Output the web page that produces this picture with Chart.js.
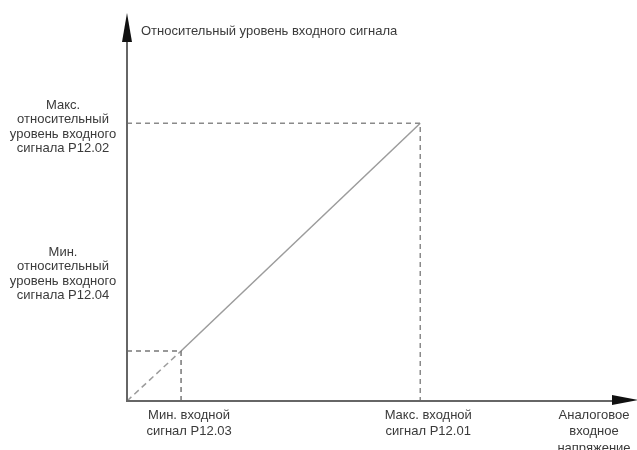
<!DOCTYPE html>
<html>
<head>
<meta charset="utf-8">
<script src="https://cdn.jsdelivr.net/npm/chart.js@4.4.1/dist/chart.umd.min.js"></script>
<style>
  html, body { margin: 0; padding: 0; background: #fff; }
  #wrap { width: 637px; height: 450px; }
</style>
</head>
<body>
<div id="wrap"><canvas id="grafico"></canvas></div>
<script>
// ----------------------- dados --------------------------------------------//
var pontoMin = { x: 1.06, y: 1.32 };   // P12.03 / P12.04
var pontoMax = { x: 5.75, y: 7.33 };   // P12.01 / P12.02
var tituloY = 'Относительный уровень входного сигнала';
var rotulosX = [
  ['Мин. входной', 'сигнал P12.03'],
  ['Макс. входной', 'сигнал P12.01'],
  ['Аналоговое', 'входное', 'напряжение']
];
var posRotulosX = [pontoMin.x, pontoMax.x, 9.0];
var rotulosY = [
  ['Макс.', 'относительный', 'уровень входного', 'сигнала P12.02'],
  ['Мин.', 'относительный', 'уровень входного', 'сигнала P12.04']
];

// ----------------------- eixos e textos ------------------------------------//
var eixos = {
  id: 'eixos',
  afterDraw: function (chart) {
    var c = chart.ctx;
    var x = chart.scales.x, y = chart.scales.y;
    var x0 = x.getPixelForValue(0), y0 = y.getPixelForValue(0);
    var xEnd = x.getPixelForValue(10), yEnd = y.getPixelForValue(10);
    c.save();
    c.strokeStyle = '#666';
    c.fillStyle = '#111';
    c.lineWidth = 2;
    c.beginPath();
    c.moveTo(x0, y0 + 1);
    c.lineTo(x0, yEnd + 18);
    c.moveTo(x0 - 1, y0);
    c.lineTo(xEnd - 22, y0);
    c.stroke();
    // setas
    c.beginPath();
    c.moveTo(x0, yEnd - 9);
    c.lineTo(x0 - 5, yEnd + 20);
    c.lineTo(x0 + 5, yEnd + 20);
    c.closePath();
    c.fill();
    c.beginPath();
    c.moveTo(xEnd + 2, y0 - 1);
    c.lineTo(xEnd - 25, y0 - 6);
    c.lineTo(xEnd - 25, y0 + 4);
    c.closePath();
    c.fill();

    c.fillStyle = '#3a3a3a';
    c.font = '13px "Liberation Sans", Arial, sans-serif';
    c.textBaseline = 'middle';
    c.textAlign = 'left';
    c.fillText(tituloY, x0 + 14, 31);

    c.textAlign = 'center';
    rotulosX.forEach(function (linhas, i) {
      var px = x.getPixelForValue(posRotulosX[i]);
      linhas.forEach(function (t, j) {
        c.fillText(t, px + 8, y0 + 14 + j * 16.5);
      });
    });
    var topos = [y.getPixelForValue(pontoMax.y) - 18, y.getPixelForValue(pontoMin.y) - 99];
    rotulosY.forEach(function (linhas, i) {
      linhas.forEach(function (t, j) {
        c.fillText(t, 63, topos[i] + j * 14.5);
      });
    });
    c.restore();
  }
};

var ctx = document.getElementById('grafico').getContext('2d');
var grafico = new Chart(ctx, {
  type: 'scatter',
  data: {
    datasets: [
      {
        data: [{ x: 0, y: pontoMax.y }, pontoMax, { x: pontoMax.x, y: 0 }],
        showLine: true,
        borderColor: '#8a8a8a',
        borderWidth: 1.5,
        borderDash: [5, 4],
        pointRadius: 0
      },
      {
        data: [{ x: 0, y: pontoMin.y }, pontoMin, { x: pontoMin.x, y: 0 }],
        showLine: true,
        borderColor: '#777',
        borderWidth: 1.5,
        borderDash: [5, 4],
        pointRadius: 0
      },
      {
        data: [{ x: 0, y: 0 }, pontoMin, pontoMax],
        showLine: true,
        borderColor: '#9c9c9c',
        borderWidth: 1.5,
        pointRadius: 0,
        segment: {
          borderDash: function (s) { return s.p0DataIndex === 0 ? [6, 4] : undefined; }
        }
      }
    ]
  },
  options: {
    responsive: true,
    maintainAspectRatio: false,
    animation: false,
    layout: { padding: { left: 127, right: 0, top: 22, bottom: 49 } },
    plugins: { legend: { display: false }, tooltip: { enabled: false } },
    scales: {
      x: { type: 'linear', min: 0, max: 10, display: false },
      y: { type: 'linear', min: 0, max: 10, display: false }
    }
  },
  plugins: [eixos]
});
</script>
</body>
</html>
